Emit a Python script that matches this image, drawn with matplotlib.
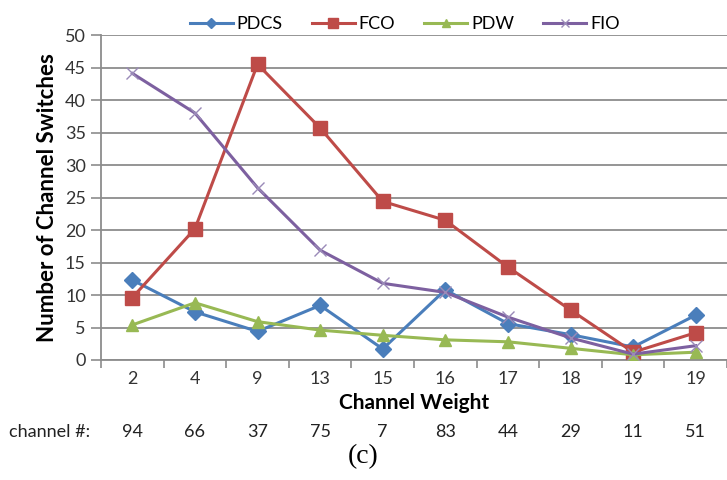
import matplotlib.pyplot as plt
import matplotlib.transforms as mtransforms
import numpy as np

# ─── Data ────────────────────────────────────────────────────────────────────
weights  = ['2', '4', '9', '13', '15', '16', '17', '18', '19', '19']
channels = ['94', '66', '37', '75', '7', '83', '44', '29', '11', '51']

pdcs = [12.3, 7.4, 4.4, 8.4, 1.7, 10.8, 5.6, 3.9, 2.0, 6.9]
fco  = [9.6, 20.2, 45.5, 35.7, 24.4, 21.5, 14.3, 7.7, 1.2, 4.2]
pdw  = [5.4, 8.8, 5.9, 4.6, 3.8, 3.1, 2.8, 1.8, 0.8, 1.2]
fio  = [44.1, 38.0, 26.5, 16.9, 11.8, 10.4, 6.6, 3.4, 0.9, 2.2]

# ─── Style ───────────────────────────────────────────────────────────────────
BLUE   = '#4A7EBB'
RED    = '#BE4B48'
GREEN  = '#98B954'
PURPLE = '#7D60A0'
GRID   = '#8C8C8C'
FONT   = ['Lato', 'DejaVu Sans']

plt.rcParams['font.family'] = FONT

fig = plt.figure(figsize=(7.27, 4.8), dpi=100, facecolor='white')
ax = fig.add_axes([0.139, 0.25, 0.861, 0.677])

x = np.arange(len(weights))
ax.plot(x, pdcs, color=BLUE, lw=2.2, marker='D', ms=8, label='PDCS', zorder=3)
ax.plot(x, fco, color=RED, lw=2.2, marker='s', ms=10, label='FCO', zorder=3)
ax.plot(x, pdw, color=GREEN, lw=2.2, marker='^', ms=9, label='PDW', zorder=3)
ax.plot(x, fio, color=PURPLE, lw=2.2, marker='x', ms=9, mew=1.0,
        mec='#9A8AB8', label='FIO', zorder=3)

ax.set_xlim(-0.5, len(weights) - 0.5)
ax.set_ylim(0, 50)
ax.set_yticks(np.arange(0, 51, 5))
ax.yaxis.grid(True, color=GRID, lw=1.3)
ax.set_axisbelow(True)
ax.tick_params(axis='y', labelsize=13, length=7, color=GRID, width=1.2, pad=4,
               labelcolor='#333333')

# Excel-style category ticks at boundaries, labels at centres
ax.set_xticks(np.arange(-0.5, len(weights)))
ax.set_xticklabels([])
ax.set_xticks(x, minor=True)
ax.set_xticklabels(weights, minor=True, fontsize=13, color='#333333')
ax.tick_params(axis='x', which='major', length=6, color=GRID, width=1.2)
ax.tick_params(axis='x', which='minor', length=0, pad=8)

for s in ['top', 'right']:
    ax.spines[s].set_visible(False)
for s in ['left', 'bottom']:
    ax.spines[s].set_color(GRID)
    ax.spines[s].set_linewidth(1.3)

ax.set_ylabel('Number of Channel Switches', fontsize=16, fontweight='bold', labelpad=5)
ax.set_xlabel('Channel Weight', fontsize=15, fontweight='bold', labelpad=4)

# channel numbers row
trans = mtransforms.blended_transform_factory(ax.transData, fig.transFigure)
for xi, ch in zip(x, channels):
    ax.text(xi, 1 - 432 / 480, ch, transform=trans, ha='center', va='center',
            fontsize=13, color='#222222')
fig.text(0.013, 1 - 432 / 480, 'channel #:', ha='left', va='center', fontsize=13,
         color='#222222')

fig.text(0.5, 1 - 457 / 480, '(c)', ha='center', va='center', fontsize=20,
         family=['Liberation Serif', 'DejaVu Serif'])

ax.legend(loc='lower center', bbox_to_anchor=(0.485, 0.975), ncol=4, frameon=False,
          fontsize=13, handlelength=2.4, columnspacing=1.6, handletextpad=0.2,
          borderpad=0.1, markerscale=0.65)

fig.savefig('out.png', dpi=100, facecolor='white')
